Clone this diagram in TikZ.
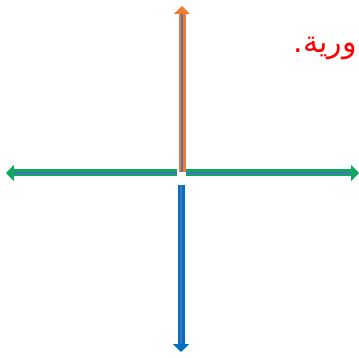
\documentclass[tikz,border=0pt]{standalone}
\usepackage{fontspec}
\TeXXeTstate=1
\newfontfamily\arabicfont[Script=Arabic]{DejaVu Sans}
\usetikzlibrary{arrows.meta}
\definecolor{ornge}{HTML}{ED7D31}
\definecolor{grn}{HTML}{10A860}
\definecolor{blu}{HTML}{0070C0}
\definecolor{midblu}{HTML}{4472C4}
\tikzset{
  axisline/.style={line width=7pt},
  centerline/.style={line width=1.5pt, midblu},
  headtip/.style={-{Triangle[width=16pt,length=8pt]}},
  bothtips/.style={{Triangle[width=16pt,length=8pt]}-{Triangle[width=16pt,length=8pt]}},
  lbl/.style={text=red, font=\arabicfont\fontsize{30}{34}\selectfont, anchor=base east, inner sep=0pt}
}
\begin{document}
\begin{tikzpicture}[x=1pt,y=-1pt]
\useasboundingbox (0,0) rectangle (359,358);
\clip (0,0) rectangle (359,358);
% coordinates
\coordinate (gl) at (6,173);
\coordinate (gr) at (359,173);
\coordinate (ob) at (182,172);
\coordinate (ot) at (182,6);
\coordinate (bt) at (181,185);
\coordinate (bb) at (181,352);
% green horizontal arrow
\draw[axisline, grn, bothtips] (gl) -- (gr);
\draw[centerline, shorten <=8pt, shorten >=8pt] (gl) -- (gr);
\fill[white] (177,165) rectangle (186,180);
% orange vertical arrow
\draw[axisline, ornge, headtip] (ob) -- (ot);
\draw[centerline, shorten >=8pt] (ob) -- (ot);
% blue downward arrow
\draw[axisline, blu, headtip] (bt) -- (bb);
\draw[line width=1.2pt, midblu, shorten >=8pt] (bt) -- (bb);
% text
\node[lbl] (t) at (357,53) {\beginR ورية.\endR};
\end{tikzpicture}
\end{document}
